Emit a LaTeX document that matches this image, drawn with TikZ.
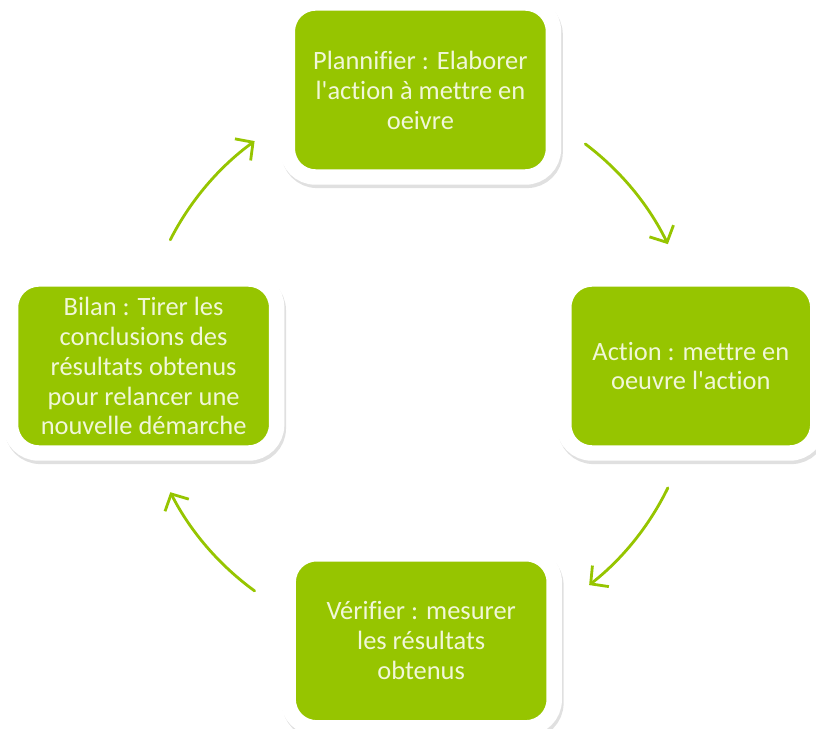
\documentclass[tikz,border=0pt]{standalone}
\usepackage{fontspec}
\setmainfont{Carlito}[Ligatures=NoCommon]
\usetikzlibrary{positioning,shadows,arrows.meta}

\definecolor{leafgreen}{RGB}{150,197,0}
\definecolor{paletext}{RGB}{241,247,216}

\begin{document}
\begin{tikzpicture}[
			stage/.style={draw=white, line width=11pt, rounded corners=20pt, fill=leafgreen,
				minimum width=6.65cm, minimum height=4.35cm, align=center, text=paletext,
				font=\fontsize{18.8}{21.3}\selectfont,
				drop shadow={draw=black, fill=black, line width=11pt, opacity=0.12,
					shadow xshift=1.2pt, shadow yshift=-2.4pt}},
			cycle_arrow/.style={draw=leafgreen, line width=2pt, line cap=round,
				-{Straight Barb[length=9pt, width=19pt, line width=2pt]}}
			]
			
			\path[use as bounding box] (0,0) rectangle (20.4,-18.225);
			
			% Centre of the cycle
			\coordinate (centre) at (10.45,-9.15);
			
			% The four stages
			\node[stage] (plan) at ([shift={(0.06cm,6.9cm)}]centre) {Plannifier : Elaborer\\l\textquotesingle action à mettre en\\oeivre};
			\node[stage, minimum width=6.35cm] (action) at ([xshift=6.82cm]centre) {Action : mettre en\\oeuvre l\textquotesingle action};
			\node[stage] (verif) at ([shift={(0.08cm,-6.87cm)}]centre) {Vérifier : mesurer\\les résultats\\obtenus};
			\node[stage] (bilan) at ([xshift=-6.86cm]centre) {Bilan : Tirer les\\conclusions des\\résultats obtenus\\pour relancer une\\nouvelle démarche};
			
			% Start points of the arrows, on a circle round the centre
			\coordinate (plan_out) at ([shift={(53:6.95cm)}]centre);
			\coordinate (action_out) at ([shift={(-26:6.95cm)}]centre);
			\coordinate (verif_out) at ([shift={(-126:6.95cm)}]centre);
			\coordinate (bilan_out) at ([shift={(153:6.95cm)}]centre);
			
			% Arrows (clockwise)
			\draw[cycle_arrow] (plan_out) arc[start angle=53, end angle=26, radius=6.95cm];
			\draw[cycle_arrow] (action_out) arc[start angle=-26, end angle=-52, radius=6.95cm];
			\draw[cycle_arrow] (verif_out) arc[start angle=-126, end angle=-153, radius=6.95cm];
			\draw[cycle_arrow] (bilan_out) arc[start angle=153, end angle=126, radius=6.95cm];
			
		\end{tikzpicture}
\end{document}
